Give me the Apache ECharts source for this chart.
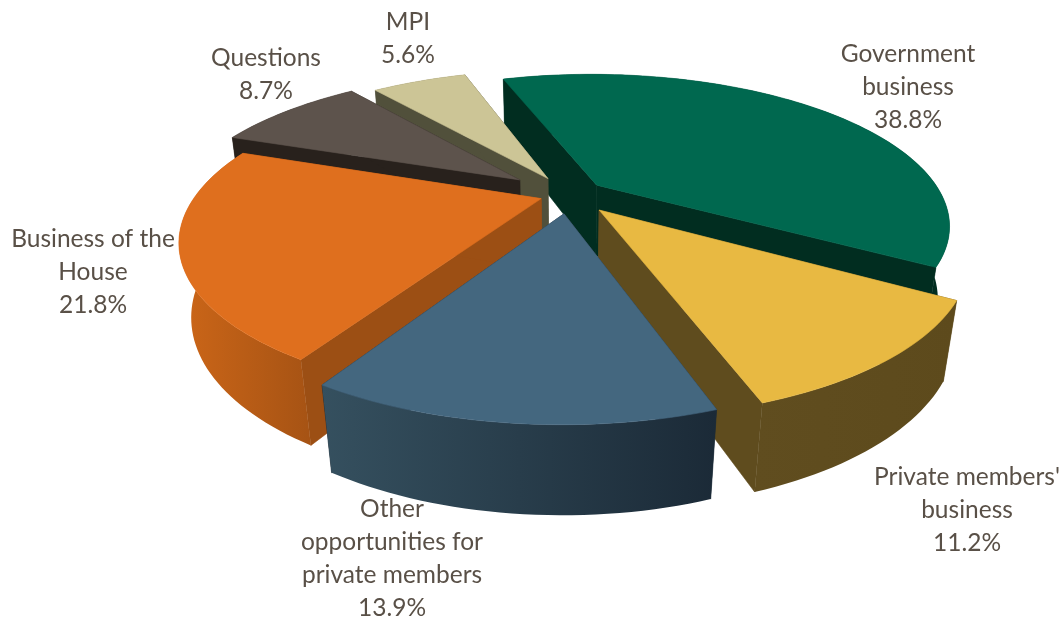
<!DOCTYPE html>
<html><head><meta charset="utf-8">
<style>html,body{margin:0;padding:0;background:#fff}#c{width:1059px;height:619px}</style>
<script src="https://cdn.jsdelivr.net/npm/echarts@6/dist/echarts.min.js"></script>
</head><body><div id="c"></div>
<script>
// ---- data ----
const categories = ['Government business', "Private members' business", 'Other opportunities for private members', 'Business of the House', 'Questions', 'MPI'];
const values = [38.8, 11.2, 13.9, 21.8, 8.7, 5.6];
const labelLines = [['Government','business'], ["Private members'",'business'], ['Other','opportunities for','private members'], ['Business of the','House'], ['Questions'], ['MPI']];
// ---- style ----
const explode = [0.105, 0.135, 0.13, 0.085, 0.18, 0.13];
const topColors = ['#00684f','#e8b942','#44677f','#df6f1e','#5d534c','#ccc596'];
const wallColors = ['#012d20','#5f4c1e','#1c2b38','#9c4f14','#28211c','#51503b'];
const sideFrom = ['#012d20','#604d1f','#35505f','#cc6618','#28211c','#51503b'];
const sideTo   = ['#012d20','#5d4a1c','#1b2a37','#a65314','#28211c','#51503b'];
const labelAnchor = [[908,54],[967,477],[392,509],[93,239],[266,58],[408,22]];
const drawOrder = [0,5,4,3,1,2];
const lineGap = 33;
// ---- projection ----
const P = {cx:569, cy:194.5, A:345, B:144, H:73.6, k:0.26, q:0.03, start:341.2};
function proj(u,v,z){const w=1-P.k*v+P.q*z;return [P.cx+P.A*u/w, P.cy+(P.B*v+P.H*z)/w];}
const total = values.reduce((a,b)=>a+b,0);
const slices=[]; let acc=P.start;
values.forEach((val,i)=>{const sw=val/total*360;slices.push({i,a0:acc,a1:acc+sw});acc+=sw;});
function poly(points,fill){return {type:'polygon',shape:{points},style:{fill,stroke:typeof fill==='string'?fill:null,lineWidth:0.6},silent:true};}
function buildSlice(s){
  const i=s.i, mid=(s.a0+s.a1)/2*Math.PI/180;
  const ex=explode[i]*Math.sin(mid), ey=-explode[i]*Math.cos(mid);
  const pt=(deg,r,z)=>{const a=deg*Math.PI/180;return proj(ex+r*Math.sin(a),ey-r*Math.cos(a),z);};
  const n=Math.ceil((s.a1-s.a0)/1.5);
  const arcT=[],arcB=[];
  for(let j=0;j<=n;j++){const d=s.a0+(s.a1-s.a0)*j/n;arcT.push(pt(d,1,0));arcB.push(pt(d,1,1));}
  const apT=pt(0,0,0),apB=pt(0,0,1);
  const grad=new echarts.graphic.LinearGradient(0,0,1,0,[{offset:0,color:sideFrom[i]},{offset:1,color:sideTo[i]}]);
  return [
    poly([apT,arcT[0],arcB[0],apB],wallColors[i]),
    poly([apT,arcT[n],arcB[n],apB],wallColors[i]),
    poly(arcT.concat(arcB.slice().reverse()),grad),
    poly([apT].concat(arcT),topColors[i])
  ];
}
function renderItem(params){
  if(params.dataIndex!==0) return {type:'group',children:[]};
  let children=[];
  drawOrder.forEach(i=>{children=children.concat(buildSlice(slices[i]));});
  categories.forEach((c,i)=>{
    const lines=labelLines[i].concat([values[i].toFixed(1)+'%']);
    lines.forEach((t,j)=>{children.push({type:'text',x:labelAnchor[i][0],y:labelAnchor[i][1]+j*lineGap,silent:true,
      style:{text:t,fill:'#595047',font:'24.5px Lato',align:'center',verticalAlign:'middle'}});});
  });
  return {type:'group',children};
}
const chart=echarts.init(document.getElementById('c'),null,{renderer:'canvas'});
chart.setOption({animation:false,backgroundColor:'#fff',
  series:[{type:'custom',coordinateSystem:'none',renderItem,data:values.map((v,i)=>({name:categories[i],value:v}))}]});
</script></body></html>
